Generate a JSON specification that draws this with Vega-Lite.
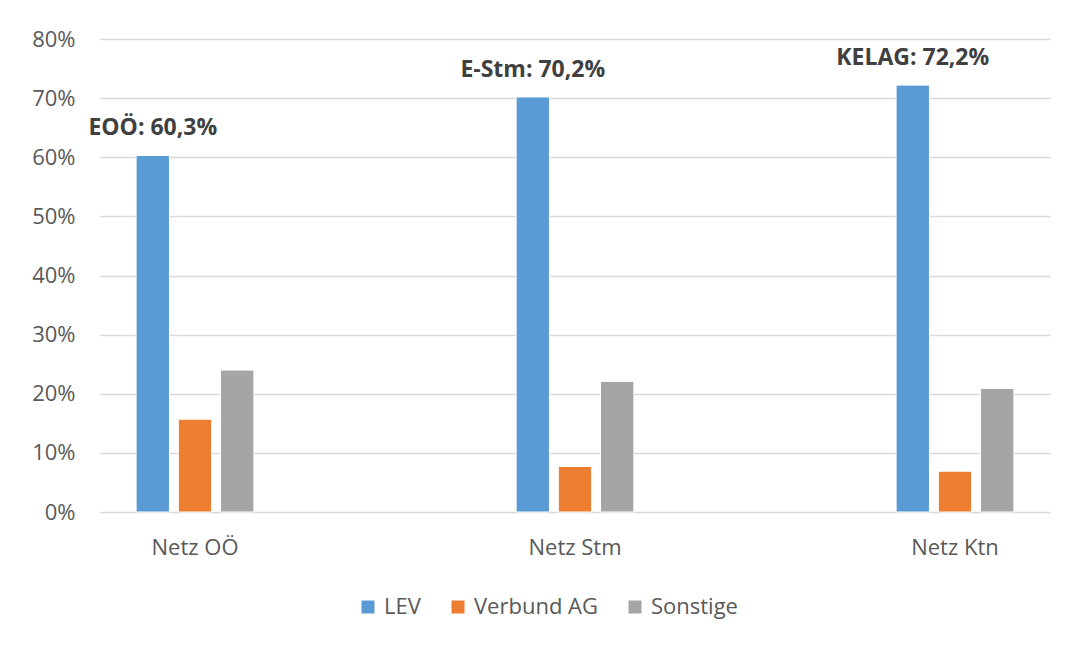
{
  "$schema": "https://vega.github.io/schema/vega-lite/v6.json",
  "width": 950,
  "height": 473,
  "autosize": "none",
  "padding": {"left": 100, "top": 39, "right": 19, "bottom": 133},
  "background": "white",
  "config": {
    "font": "Open Sans",
    "view": {"stroke": null}
  },
  "data": {
    "values": [
      {"netz": "Netz OÖ", "serie": "LEV", "anteil": 0.603, "label": "EOÖ: 60,3%"},
      {"netz": "Netz OÖ", "serie": "Verbund AG", "anteil": 0.157, "label": ""},
      {"netz": "Netz OÖ", "serie": "Sonstige", "anteil": 0.240, "label": ""},
      {"netz": "Netz Stm", "serie": "LEV", "anteil": 0.702, "label": "E-Stm: 70,2%"},
      {"netz": "Netz Stm", "serie": "Verbund AG", "anteil": 0.077, "label": ""},
      {"netz": "Netz Stm", "serie": "Sonstige", "anteil": 0.221, "label": ""},
      {"netz": "Netz Ktn", "serie": "LEV", "anteil": 0.722, "label": "KELAG: 72,2%"},
      {"netz": "Netz Ktn", "serie": "Verbund AG", "anteil": 0.069, "label": ""},
      {"netz": "Netz Ktn", "serie": "Sonstige", "anteil": 0.209, "label": ""}
    ]
  },
  "encoding": {
    "x": {
      "field": "netz", "type": "nominal", "sort": ["Netz OÖ", "Netz Stm", "Netz Ktn"],
      "scale": {"paddingInner": 0.69, "paddingOuter": 0.095},
      "axis": {"title": null, "labelAngle": 0, "domain": false, "ticks": false, "labelFontSize": 22, "labelColor": "#595959", "labelPadding": 25}
    },
    "xOffset": {
      "field": "serie", "type": "nominal", "sort": ["LEV", "Verbund AG", "Sonstige"],
      "scale": {"paddingInner": 0.21, "paddingOuter": 0}
    },
    "y": {
      "field": "anteil", "type": "quantitative",
      "scale": {"domain": [0, 0.8]},
      "axis": {"title": null, "format": ".0%", "values": [0, 0.1, 0.2, 0.3, 0.4, 0.5, 0.6, 0.7, 0.8], "labelOverlap": false, "domain": false, "ticks": false, "labelFontSize": 22, "labelColor": "#595959", "labelPadding": 25, "gridColor": "#D9D9D9", "gridWidth": 1.5}
    }
  },
  "layer": [
    {
      "mark": {"type": "bar", "stroke": "white", "strokeWidth": 1},
      "encoding": {
        "color": {
          "field": "serie", "type": "nominal", "sort": ["LEV", "Verbund AG", "Sonstige"],
          "scale": {"domain": ["LEV", "Verbund AG", "Sonstige"], "range": ["#5B9BD5", "#ED7D31", "#A5A5A5"]},
          "legend": {"title": null, "orient": "none", "legendX": 257, "legendY": 557, "direction": "horizontal", "symbolType": "square", "symbolSize": 169, "symbolStrokeWidth": 0, "labelFontSize": 22, "labelColor": "#595959", "columnPadding": 26, "labelOffset": 5}
        }
      }
    },
    {
      "transform": [{"filter": "datum.label != ''"}],
      "mark": {"type": "text", "fontWeight": "bold", "fontSize": 23, "color": "#404040", "baseline": "bottom", "dy": -15},
      "encoding": {"text": {"field": "label"}}
    }
  ]
}
